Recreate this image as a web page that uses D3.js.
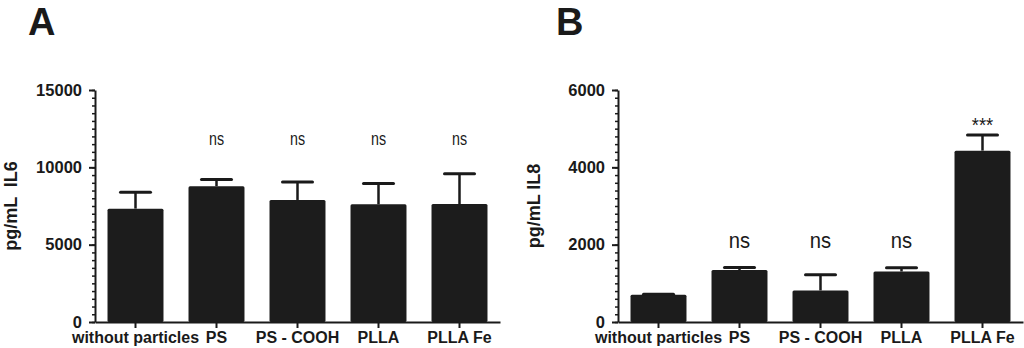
<!DOCTYPE html>
<html>
<head>
<meta charset="utf-8">
<script src="https://cdn.jsdelivr.net/npm/d3@7"></script>
<style>
  html, body { margin: 0; padding: 0; background: #fff; }
  svg { display: block; }
  text { font-family: "Liberation Sans", Arial, Helvetica, sans-serif; fill: #1a1a1a; }
</style>
</head>
<body>
<svg id="chart" width="1024" height="348"></svg>
<script>
const categories = ["without particles", "PS", "PS - COOH", "PLLA", "PLLA Fe"];

const il6Mean = [7330, 8780, 7890, 7610, 7630];
const il6Err  = [1060, 430, 1160, 1340, 1960];
const il6Sig  = ["", "ns", "ns", "ns", "ns"];
const il6Ticks = [0, 5000, 10000, 15000];

const il8Mean = [705, 1343, 816, 1307, 4432];
const il8Err  = [12, 67, 406, 95, 406];
const il8Sig  = ["", "ns", "ns", "ns", "***"];
const il8Ticks = [0, 2000, 4000, 6000];

const svg = d3.select("#chart");
const ink = "#1a1a1a";

function panel(opts) {
  const g = svg.append("g");
  const x = d3.scaleBand().domain(categories).range([opts.x0, opts.x1])
    .paddingInner(0.309).paddingOuter(0.1545);
  const y = d3.scaleLinear().domain([0, opts.max]).range([322, 90]);

  // panel letter
  g.append("text").attr("x", opts.letterX).attr("y", 34.5)
    .attr("font-size", 38).attr("font-weight", "bold").text(opts.letter);

  // y title
  g.append("text")
    .attr("transform", `translate(${opts.titleX},${206}) rotate(-90)`)
    .attr("text-anchor", "middle").attr("font-size", 18).attr("font-weight", "bold")
    .attr("xml:space", "preserve").style("white-space", "pre")
    .text(opts.title);

  // bars
  const data = categories.map((c, i) => ({ c, m: opts.mean[i], e: opts.err[i], s: opts.sig[i] }));
  g.selectAll("rect.bar").data(data).join("rect").attr("class", "bar")
    .attr("x", d => x(d.c)).attr("width", x.bandwidth())
    .attr("y", d => y(d.m)).attr("height", d => y(0) - y(d.m))
    .attr("rx", 1.5).attr("fill", "#1c1c1c");

  // error bars (upper only)
  const cx = d => x(d.c) + x.bandwidth() / 2;
  g.selectAll("line.err").data(data).join("line").attr("class", "err")
    .attr("x1", cx).attr("x2", cx)
    .attr("y1", d => y(d.m)).attr("y2", d => y(d.m + d.e))
    .attr("stroke", ink).attr("stroke-width", 2.5);
  g.selectAll("line.cap").data(data).join("line").attr("class", "cap")
    .attr("x1", d => cx(d) - 15).attr("x2", d => cx(d) + 15)
    .attr("y1", d => y(d.m + d.e)).attr("y2", d => y(d.m + d.e))
    .attr("stroke", ink).attr("stroke-width", 3).attr("stroke-linecap", "round");

  // significance labels
  g.selectAll("text.sig").data(data.filter(d => d.s)).join("text").attr("class", "sig")
    .attr("transform", d => {
      const yy = d.s === "***" ? opts.starY : opts.sigY;
      return `translate(${cx(d)},${yy}) scale(${opts.sigScaleX},1)`;
    })
    .attr("text-anchor", "middle")
    .attr("font-size", d => d.s === "***" ? 20 : opts.sigSize)
    .text(d => d.s);

  // minor ticks
  const minor = d3.range(0, opts.max + 1e-9, opts.minorStep);
  g.append("g").attr("transform", `translate(${opts.x0},0)`)
    .call(d3.axisLeft(y).tickValues(minor).tickSize(3).tickFormat(""))
    .call(a => a.select(".domain").remove())
    .call(a => a.selectAll("line").attr("stroke", ink).attr("stroke-width", 1.5));

  // y axis
  g.append("g").attr("transform", `translate(${opts.x0},0)`)
    .call(d3.axisLeft(y).tickValues(opts.ticks).tickSize(6).tickSizeOuter(0).tickPadding(7).tickFormat(d3.format("d")))
    .call(a => {
      a.select(".domain").attr("stroke", ink).attr("stroke-width", 2);
      a.selectAll("line").attr("stroke", ink).attr("stroke-width", 2);
      a.selectAll("text").attr("font-size", 16.5).attr("font-weight", "bold").attr("fill", ink)
        .attr("font-family", '"Liberation Sans", Arial, sans-serif');
    });

  // x axis
  g.append("g").attr("transform", `translate(0,${y(0)})`)
    .call(d3.axisBottom(x).tickSize(6).tickSizeOuter(0).tickPadding(4))
    .call(a => {
      a.select(".domain").attr("stroke", ink).attr("stroke-width", 2);
      a.selectAll("line").attr("stroke", ink).attr("stroke-width", 2);
      a.selectAll("text").attr("font-size", 16).attr("font-weight", "bold").attr("fill", ink)
        .attr("font-family", '"Liberation Sans", Arial, sans-serif');
    });
}

panel({
  x0: 95, x1: 500, max: 15000, ticks: il6Ticks, minorStep: 500,
  mean: il6Mean, err: il6Err, sig: il6Sig,
  letter: "A", letterX: 28, title: "pg/mL  IL6", titleX: 16.5,
  sigY: 145, sigSize: 19, sigScaleX: 0.75, starY: 131.5
});

panel({
  x0: 618, x1: 1023, max: 6000, ticks: il8Ticks, minorStep: 200,
  mean: il8Mean, err: il8Err, sig: il8Sig,
  letter: "B", letterX: 556, title: "pg/mL IL8", titleX: 540,
  sigY: 248, sigSize: 22, sigScaleX: 0.92, starY: 131.5
});
</script>
</body>
</html>
